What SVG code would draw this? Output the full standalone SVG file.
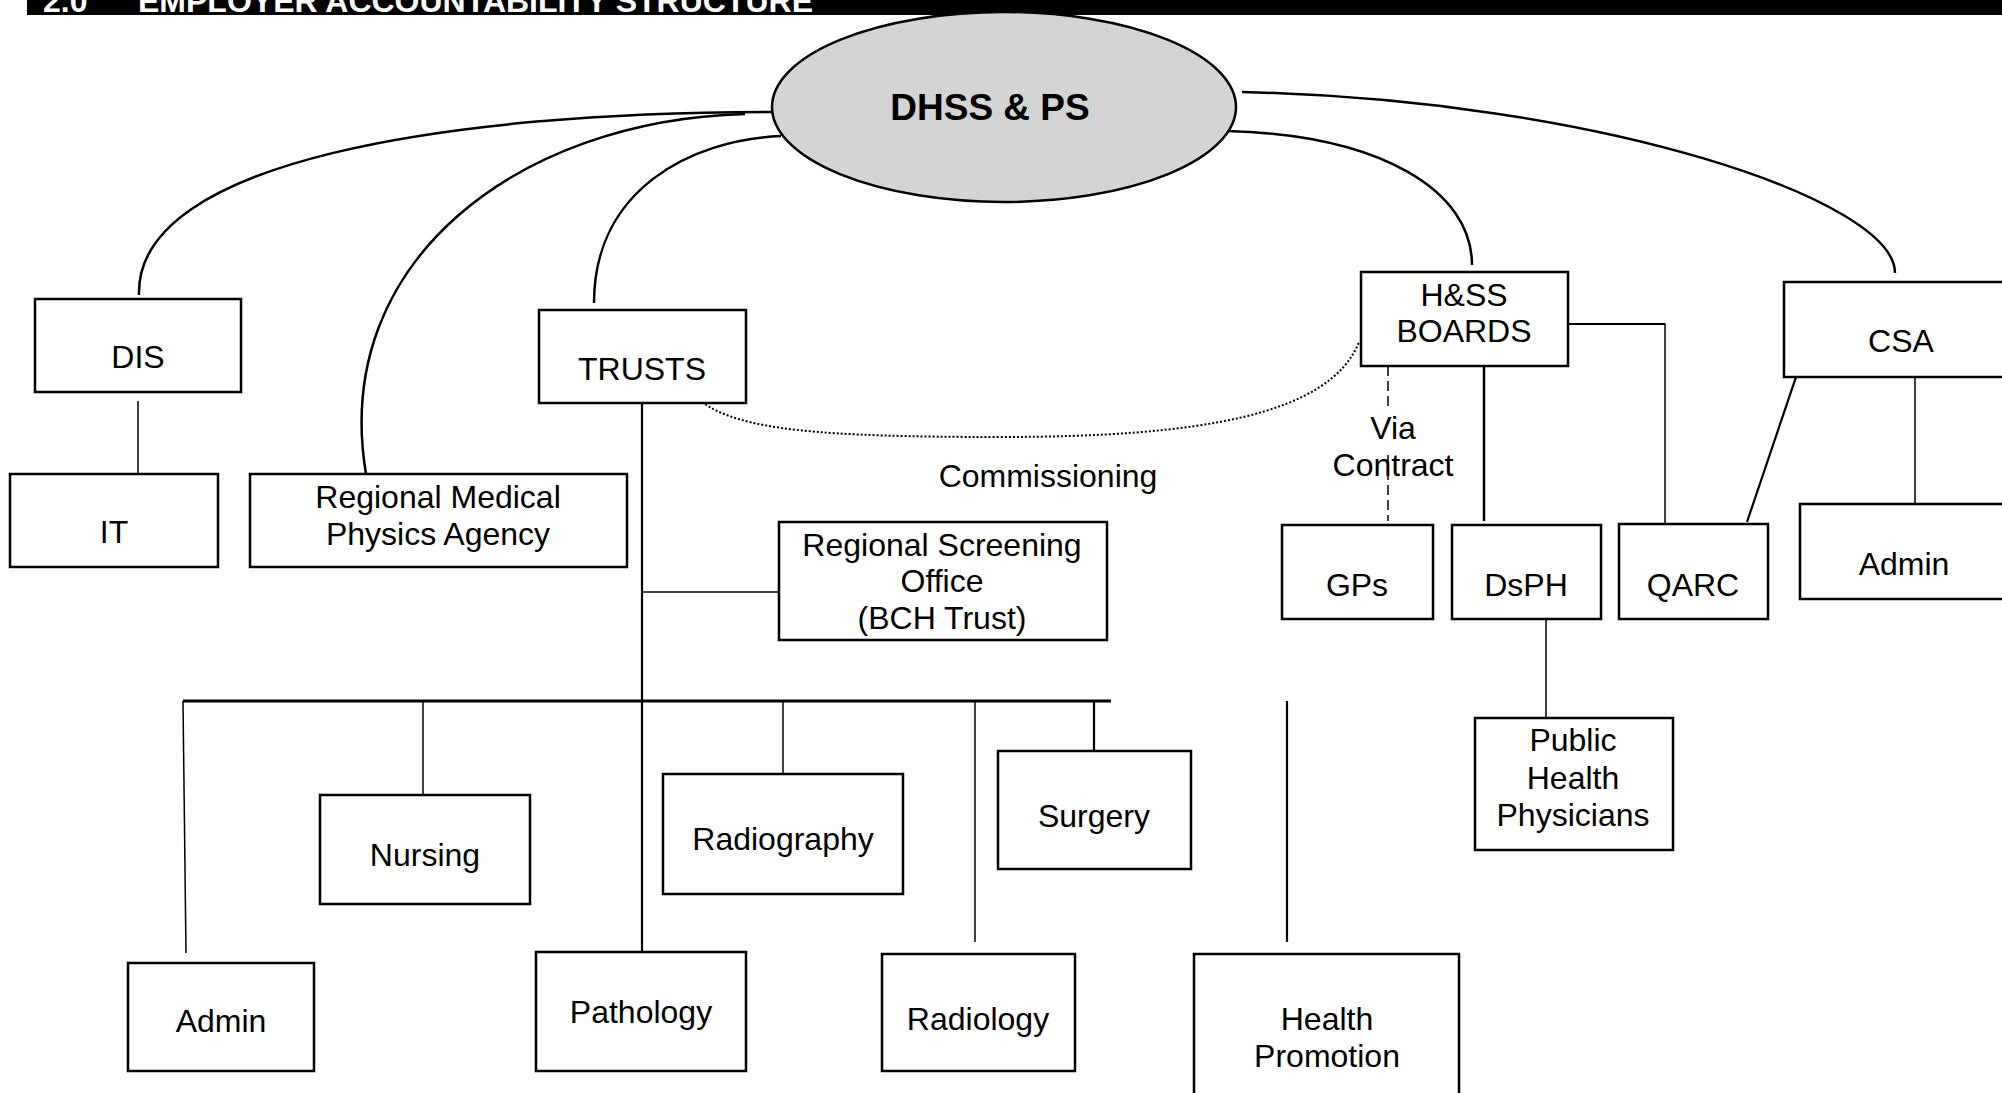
<svg xmlns="http://www.w3.org/2000/svg" width="2002" height="1093" viewBox="0 0 2002 1093">
<style>
.box{fill:#fff;stroke:#000;stroke-width:2.5}
.t{font-family:"Liberation Sans",Arial,sans-serif;font-size:32px;fill:#000;text-anchor:middle}
.c{fill:none;stroke:#000;stroke-width:2.5}
.l{fill:none;stroke:#000;stroke-width:1.5}
.m{fill:none;stroke:#000;stroke-width:2.2}
</style>
<rect x="0" y="0" width="2002" height="1093" fill="#fff"/>
<g id="title">
<rect x="27" y="0" width="1975" height="15" fill="#000"/>
<text x="43" y="12" font-family="Liberation Sans,Arial,sans-serif" font-size="32" font-weight="bold" fill="#fff">2.0</text>
<text x="138" y="12" font-family="Liberation Sans,Arial,sans-serif" font-size="32" font-weight="bold" fill="#fff">EMPLOYER ACCOUNTABILITY STRUCTURE</text>
</g>
<g id="connectors">
<path class="c" d="M772 112 C450 112 135 160 139 295"/>
<path class="c" d="M745 114 C520 120 330 260 366 474"/>
<path class="c" d="M781 136 C690 140 594 190 594 303"/>
<path class="c" d="M1227 131 C1380 135 1472 190 1472 265"/>
<path class="c" d="M1242 92 C1600 100 1895 200 1895 273"/>
<line class="l" x1="138" y1="401" x2="138" y2="473"/>
<line class="m" x1="642" y1="403" x2="642" y2="952"/>
<line class="l" x1="642" y1="592" x2="788" y2="592"/>
<line x1="183" y1="701" x2="1111" y2="701" stroke="#000" stroke-width="3"/>
<line class="l" x1="183" y1="701" x2="186" y2="953"/>
<line class="l" x1="423" y1="701" x2="423" y2="799"/>
<line class="l" x1="783" y1="701" x2="783" y2="774"/>
<line class="l" x1="975" y1="701" x2="975" y2="942"/>
<line class="m" x1="1094" y1="701" x2="1094" y2="751"/>
<line class="m" x1="1287" y1="701" x2="1287" y2="942"/>
<path d="M702 402 C740 430 820 437 1000 437 C1200 437 1330 415 1359 342" fill="none" stroke="#000" stroke-width="2" stroke-dasharray="2 2"/>
<line x1="1388" y1="366" x2="1388" y2="410" stroke="#000" stroke-width="1.5" stroke-dasharray="10 5"/>
<line x1="1388" y1="455" x2="1388" y2="521" stroke="#000" stroke-width="1.5" stroke-dasharray="10 5"/>
<line class="c" x1="1484" y1="366" x2="1484" y2="521"/>
<polyline class="l" points="1568,324 1665,324 1665,524"/>
<line class="m" x1="1568" y1="324" x2="1665" y2="324"/>
<line class="m" x1="1796" y1="377" x2="1747" y2="522"/>
<line class="l" x1="1915" y1="377" x2="1915" y2="522"/>
<line class="l" x1="1546" y1="619" x2="1546" y2="718"/>
</g>
<g id="dhss">
<ellipse cx="1004" cy="107" rx="232" ry="95" fill="#d4d4d4" stroke="#000" stroke-width="2.5"/>
<text x="990" y="120" font-family="Liberation Sans,Arial,sans-serif" font-size="37" font-weight="bold" text-anchor="middle">DHSS &amp; PS</text>
</g>
<g id="dis"><rect class="box" x="35" y="299" width="206" height="93"/><text class="t" x="138" y="368">DIS</text></g>
<g id="it"><rect class="box" x="10" y="474" width="208" height="93"/><text class="t" x="114" y="543">IT</text></g>
<g id="rmpa"><rect class="box" x="250" y="474" width="377" height="93"/><text class="t" x="438" y="508">Regional Medical</text><text class="t" x="438" y="545">Physics Agency</text></g>
<g id="trusts"><rect class="box" x="539" y="310" width="207" height="93"/><text class="t" x="642" y="380">TRUSTS</text></g>
<g id="rso"><rect class="box" x="779" y="522" width="328" height="118"/><text class="t" x="942" y="556">Regional Screening</text><text class="t" x="942" y="592">Office</text><text class="t" x="942" y="629">(BCH Trust)</text></g>
<g id="commissioning"><text class="t" x="1048" y="487">Commissioning</text></g>
<g id="hss"><rect class="box" x="1361" y="272" width="207" height="94"/><text class="t" x="1464" y="306">H&amp;SS</text><text class="t" x="1464" y="342">BOARDS</text></g>
<g id="csa"><rect class="box" x="1784" y="282" width="240" height="95"/><text class="t" x="1901" y="352">CSA</text></g>
<g id="via"><text class="t" x="1393" y="439">Via</text><text class="t" x="1393" y="476">Contract</text></g>
<g id="gps"><rect class="box" x="1282" y="525" width="151" height="94"/><text class="t" x="1357" y="596">GPs</text></g>
<g id="dsph"><rect class="box" x="1452" y="525" width="149" height="94"/><text class="t" x="1526" y="596">DsPH</text></g>
<g id="qarc"><rect class="box" x="1619" y="524" width="149" height="95"/><text class="t" x="1693" y="596">QARC</text></g>
<g id="csa-admin"><rect class="box" x="1800" y="504" width="220" height="95"/><text class="t" x="1904" y="575">Admin</text></g>
<g id="php"><rect class="box" x="1475" y="718" width="198" height="132"/><text class="t" x="1573" y="751">Public</text><text class="t" x="1573" y="789">Health</text><text class="t" x="1573" y="826">Physicians</text></g>
<g id="admin"><rect class="box" x="128" y="963" width="186" height="108"/><text class="t" x="221" y="1032">Admin</text></g>
<g id="nursing"><rect class="box" x="320" y="795" width="210" height="109"/><text class="t" x="425" y="866">Nursing</text></g>
<g id="pathology"><rect class="box" x="536" y="952" width="210" height="119"/><text class="t" x="641" y="1023">Pathology</text></g>
<g id="radiography"><rect class="box" x="663" y="774" width="240" height="120"/><text class="t" x="783" y="850">Radiography</text></g>
<g id="radiology"><rect class="box" x="882" y="954" width="193" height="117"/><text class="t" x="978" y="1030">Radiology</text></g>
<g id="surgery"><rect class="box" x="998" y="751" width="193" height="118"/><text class="t" x="1094" y="827">Surgery</text></g>
<g id="health-promotion"><rect class="box" x="1194" y="954" width="265" height="150"/><text class="t" x="1327" y="1030">Health</text><text class="t" x="1327" y="1067">Promotion</text></g>
</svg>
